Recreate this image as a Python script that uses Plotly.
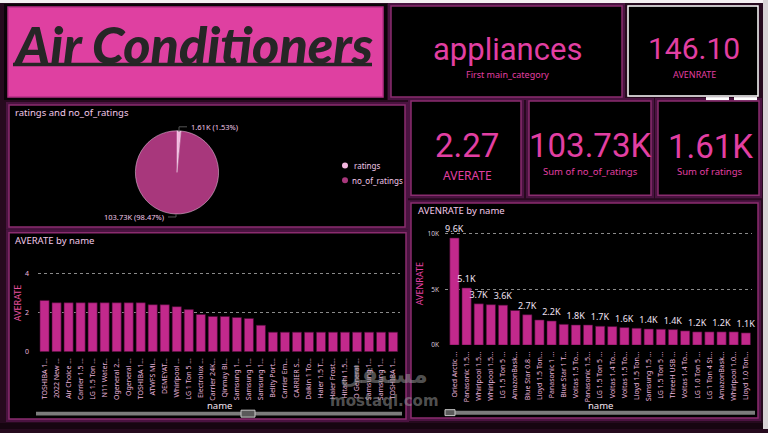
import plotly.graph_objects as go

W, H = 768, 433


def px(x):
    return x / W


def py(y):
    return 1 - y / H


# ---------------- data ----------------
title_text = "Air Conditioners"
kpi_category = "appliances"
kpi_category_label = "First main_category"
kpi_avenrate = 146.10
kpi_avenrate_label = "AVENRATE"
kpi_averate = 2.27
kpi_averate_label = "AVERATE"

pie_labels = ["ratings", "no_of_ratings"]
pie_values = [1610, 103730]

left_names = [
    "TOSHIBA 1...", "2022 New ...", "Air Choice ...", "Carrier 1.5 ...", "LG 1.5 Ton ...",
    "N11 Water...", "Ogeneral 2...", "Ogeneral ...", "TOSHIBA 1...", "ATWFS Mi...",
    "DEMEYAT...", "Whirlpool ...", "LG 1 Ton 5 ...", "Electrolux ...", "Carrier 24K...",
    "Qinmay Bl...", "Samsung 1...", "Samsung 1...", "Samsung 1...", "Belity Port...",
    "Carrier Em...", "CARRIER S...", "Daikin 1 To...", "Haier 1.5 T...", "Haier Frost...",
    "Hitachi 1.5...", "O General ...", "Samsung 1...", "Samsung 1...", "TOSHIBA 1...",
]
left_values = [
    2.62, 2.5, 2.5, 2.5, 2.5, 2.5, 2.5, 2.5, 2.5, 2.4,
    2.4, 2.3, 2.15, 1.9, 1.8, 1.8, 1.75, 1.7, 1.35, 1.0,
    1.0, 1.0, 1.0, 1.0, 1.0, 1.0, 1.0, 1.0, 1.0, 1.0,
]

right_names = [
    "Oried Arctic ...", "Panasonic 1.5...", "Whirlpool 1.5...", "Whirlpool 1.5...", "LG 1.5 Ton 5 ...",
    "AmazonBask...", "Blue Star 0.8 ...", "Lloyd 1.5 Ton...", "Panasonic 1 ...", "Blue Star 1 T...",
    "Voltas 1.5 To...", "Panasonic 1.5...", "LG 1.5 Ton 5 ...", "Voltas 1.4 To...", "Voltas 1.5 To...",
    "Lloyd 1.5 Ton...", "Samsung 1.5 ...", "LG 1.5 Ton 5 ...", "ThreeH USB ...", "Voltas 1.4 To...",
    "LG 1.0 Ton 5 ...", "LG 1 Ton 4 St...", "AmazonBask...", "Whirlpool 1.0...", "Lloyd 1.0 Ton...",
]
right_values = [
    9600, 5120, 3700, 3620, 3580, 3100, 2720, 2250, 2160, 1860,
    1800, 1800, 1690, 1660, 1570, 1510, 1440, 1420, 1390, 1270,
    1180, 1180, 1180, 1180, 1090,
]
right_labeled = [0, 1, 2, 4, 6, 8, 10, 12, 14, 16, 18, 20, 22, 24]

# ---------------- styles ----------------
PINK = "#e23fa2"
BAR = "#c2298c"
PANEL_BORDER = "#8a2c6f"
PAGE_BG = "#260a1e"
LIGHT = "#f2c8e8"
SANS = "Noto Sans, Open Sans, sans-serif"
NUM = "Roboto, Noto Sans, sans-serif"

fig = go.Figure()

# pie
total = sum(pie_values)
fig.add_trace(go.Pie(
    labels=pie_labels, values=pie_values, sort=False, direction="clockwise", rotation=0,
    marker=dict(colors=["#f3b6de", "#a8377c"], line=dict(color="#f3d0ea", width=0.5)),
    textinfo="none", showlegend=False,
    domain=dict(x=[px(135), px(219)], y=[py(216), py(132)]),
))

# left bars
fig.add_trace(go.Bar(
    x=list(range(len(left_values))), y=left_values,
    marker=dict(color=BAR, line=dict(color="#4a0c36", width=0.6)),
    xaxis="x", yaxis="y", showlegend=False,
))

# right bars
right_text = [f"{v/1000:.1f}K" if i in right_labeled else "" for i, v in enumerate(right_values)]
fig.add_trace(go.Bar(
    x=list(range(len(right_values))), y=right_values, text=right_text,
    textposition="outside", cliponaxis=False, constraintext="none",
    textfont=dict(family=SANS, size=9, color="#f0e0f0"),
    marker=dict(color=BAR, line=dict(color="#4a0c36", width=0.6)),
    xaxis="x2", yaxis="y2", showlegend=False,
))

tickfont = dict(family=SANS, size=7, color="#eab4dc")

fig.update_layout(
    width=W, height=H, margin=dict(l=0, r=0, t=0, b=0),
    paper_bgcolor=PAGE_BG, plot_bgcolor="rgba(0,0,0,0)",
    bargap=0.24,
    xaxis=dict(domain=[px(38), px(400)], range=[-0.545, 29.574], anchor="y",
               tickvals=list(range(len(left_names))), ticktext=left_names, tickangle=-90,
               tickfont=tickfont, showgrid=False, zeroline=False, showline=False,
               ticklabelstandoff=4, fixedrange=True),
    yaxis=dict(domain=[py(355), py(255)], range=[0, 5.06], anchor="x",
               tickvals=[0, 2, 4], tickfont=dict(family=SANS, size=7, color="#eab4dc"),
               showgrid=True, gridcolor="#8a8a8a", griddash="dot", gridwidth=1,
               zeroline=False, showline=False, ticklabelstandoff=8, fixedrange=True),
    xaxis2=dict(domain=[px(445), px(752)], range=[-0.778, 24.507], anchor="y2",
                tickvals=list(range(len(right_names))), ticktext=right_names, tickangle=-90,
                tickfont=tickfont, showgrid=False, zeroline=False, showline=False,
                ticklabelstandoff=4, fixedrange=True),
    yaxis2=dict(domain=[py(348.3), py(222)], range=[0, 11220], anchor="x2",
                tickvals=[0, 5000, 10000], ticktext=["0K", "5K", "10K"],
                tickfont=dict(family=SANS, size=6.5, color="#d8c8d8"),
                showgrid=True, gridcolor="#8a8a8a", griddash="dot", gridwidth=1,
                zeroline=False, showline=False, ticklabelstandoff=5, fixedrange=True),
)

shapes = []


def rect(x0, y0, x1, y1, fill, line_color=None, lw=0, layer="below"):
    shapes.append(dict(type="rect", xref="paper", yref="paper",
                       x0=px(x0), x1=px(x1), y0=py(y1), y1=py(y0),
                       fillcolor=fill, line=dict(color=line_color or fill, width=lw), layer=layer))


# page decorations
rect(0, 0, 768, 3, "#f4f0f2")
rect(763, 0, 768, 433, "#d8d4d6")
rect(0, 427, 763, 433, "#160510")

# panel shadows / frames
for (x0, y0, x1, y1) in [(391, 6, 622, 98), (9, 106, 405, 229), (411, 102, 521, 197),
                         (529, 102, 651, 197), (658, 102, 759, 197), (9, 235, 406, 423),
                         (411, 205, 758, 422)]:
    rect(x0 - 3, y0 - 3, x1 + 3, y1 + 3, "#4a1340")
    rect(x0, y0, x1, y1, "#000000", PANEL_BORDER, 1.5)

# title panel
rect(4, 4, 387, 101, "#0a0308")
rect(8, 7, 383, 98, "#df40a1", "#b82f86", 1.5)
# 146.10 panel (white border)
rect(628, 6, 758, 97, "#000000", "#ffffff", 1.5)
rect(706, 98, 729, 101, "#ffffff")
rect(734, 98, 757, 101, "#ffffff")

# title underline
shapes.append(dict(type="line", xref="paper", yref="paper", x0=px(13), x1=px(372),
                   y0=py(65), y1=py(65), line=dict(color="#252525", width=3.5), layer="above"))

# pie leader lines
for pts in [[(179, 133), (179, 128), (187, 128)], [(176, 216), (176, 219), (168, 219)]]:
    for (a, b) in zip(pts[:-1], pts[1:]):
        shapes.append(dict(type="line", xref="paper", yref="paper",
                           x0=px(a[0]), y0=py(a[1]), x1=px(b[0]), y1=py(b[1]),
                           line=dict(color="#555555", width=1), layer="above"))

# legend circles
for yy, col in [(167, "#f3b6de"), (182, "#a8377c")]:
    shapes.append(dict(type="circle", xref="paper", yref="paper",
                       x0=px(342), x1=px(348), y0=py(yy + 3), y1=py(yy - 3),
                       fillcolor=col, line=dict(width=0), layer="above"))

# scrollbars
rect(36, 415.5, 402, 419.5, "#7c7c7c", layer="above")
rect(241, 414, 255, 421, "#5a5a5a", "#c8c8c8", 1, layer="above")
rect(445, 414.5, 755, 418.5, "#7c7c7c", layer="above")
rect(445, 413.5, 455, 419.5, "#5a5a5a", "#c8c8c8", 1, layer="above")

fig.update_layout(shapes=shapes)

ann = []


def text(x, y, s, size, color, family=SANS, xanchor="center", yanchor="middle", angle=0, **kw):
    ann.append(dict(xref="paper", yref="paper", x=px(x), y=py(y), text=s, showarrow=False,
                    xanchor=xanchor, yanchor=yanchor, textangle=angle,
                    font=dict(size=size, color=color, family=family, **kw)))


# title
text(193, 44, title_text, 52, "#262626",
     family="Lato, Liberation Sans, sans-serif",
     weight=900, style="italic")

# KPI cards
text(507, 50, kpi_category, 31, PINK, family=NUM)
text(507, 75, kpi_category_label, 9, PINK)
text(694, 49, f"{kpi_avenrate:.2f}", 30, PINK, family=NUM)
text(694, 75, kpi_avenrate_label, 9, PINK)
text(467, 147, f"{kpi_averate:.2f}", 33, PINK, family=NUM)
text(467, 177, kpi_averate_label, 12, PINK)
text(590, 147, f"{pie_values[1]/1000:.2f}K", 33, PINK, family=NUM)
text(590, 173, "Sum of " + pie_labels[1], 9.5, PINK)
text(710, 148, f"{pie_values[0]/1000:.2f}K", 33, PINK, family=NUM)
text(710, 173, "Sum of " + pie_labels[0], 9.5, PINK)

# panel titles
text(13, 114, f"{pie_labels[0]} and {pie_labels[1]}", 9.5, LIGHT, xanchor="left")
text(13, 243, f"{kpi_averate_label} by name", 9.5, LIGHT, xanchor="left")
text(416, 212, f"{kpi_avenrate_label} by name", 9.5, LIGHT, xanchor="left")

# pie labels
text(189, 128.5, f"{pie_values[0]/1000:.2f}K ({pie_values[0]/total*100:.2f}%)", 7.5, LIGHT, xanchor="left")
text(166, 219.5, f"{pie_values[1]/1000:.2f}K ({pie_values[1]/total*100:.2f}%)", 7.5, LIGHT, xanchor="right")

# legend text
text(352, 167, pie_labels[0], 8, LIGHT, xanchor="left")
text(350, 182, pie_labels[1], 8, LIGHT, xanchor="left")

# axis titles
text(17, 306, kpi_averate_label, 9, "#e8509f", angle=-90)
text(419, 287, kpi_avenrate_label, 9, PINK, angle=-90)
text(219, 409, "name", 9.5, "#f4e4f0")
text(600, 409, "name", 9.5, "#f4e4f0")

# watermark
ann.append(dict(xref="paper", yref="paper", x=px(384), y=py(395), text="مستقل", showarrow=False,
                font=dict(size=24, color="rgba(150,150,150,0.55)", family="DejaVu Sans", weight="bold")))
ann.append(dict(xref="paper", yref="paper", x=px(384), y=py(416), text="mostaql.com", showarrow=False,
                font=dict(size=15, color="rgba(150,150,150,0.55)", family="DejaVu Sans", weight="bold")))

fig.update_layout(annotations=ann)

fig.write_html("out.html")
